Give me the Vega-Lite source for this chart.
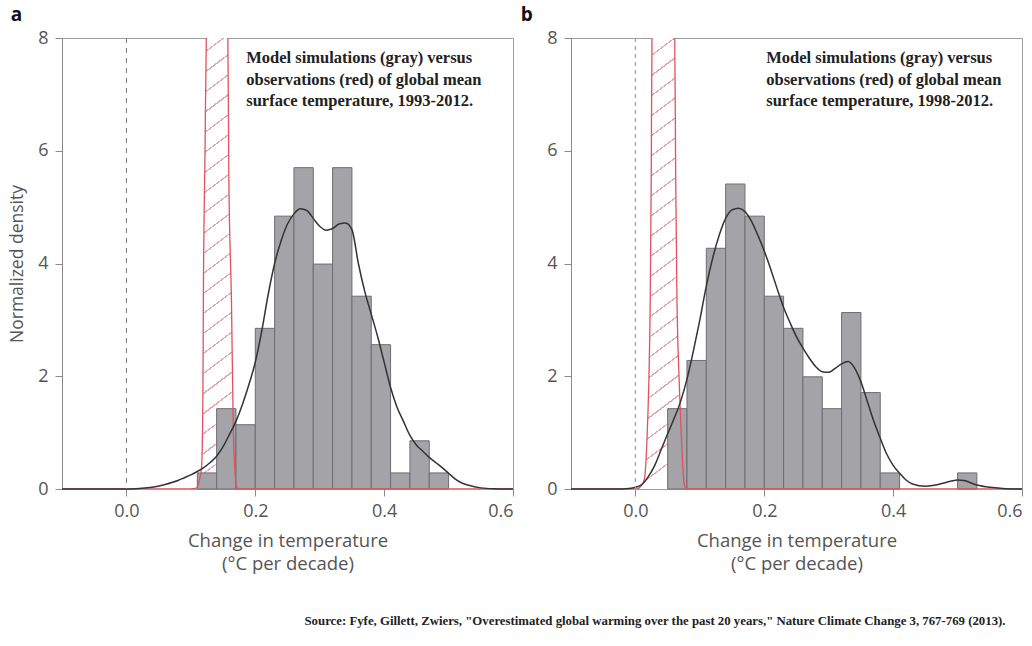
{
  "$schema": "https://vega.github.io/schema/vega-lite/v6.json",
  "background": "white",
  "padding": {"left": 8, "top": 5, "right": 0, "bottom": 5},
  "datasets": {
    "barsA": [
      {"bin_start": 0.11, "bin_end": 0.14, "density": 0.285},
      {"bin_start": 0.14, "bin_end": 0.17, "density": 1.425},
      {"bin_start": 0.17, "bin_end": 0.20, "density": 1.14},
      {"bin_start": 0.20, "bin_end": 0.23, "density": 2.85},
      {"bin_start": 0.23, "bin_end": 0.26, "density": 4.84},
      {"bin_start": 0.26, "bin_end": 0.29, "density": 5.70},
      {"bin_start": 0.29, "bin_end": 0.32, "density": 3.99},
      {"bin_start": 0.32, "bin_end": 0.35, "density": 5.70},
      {"bin_start": 0.35, "bin_end": 0.38, "density": 3.42},
      {"bin_start": 0.38, "bin_end": 0.41, "density": 2.56},
      {"bin_start": 0.41, "bin_end": 0.44, "density": 0.285},
      {"bin_start": 0.44, "bin_end": 0.47, "density": 0.855},
      {"bin_start": 0.47, "bin_end": 0.50, "density": 0.285}
    ],
    "barsB": [
      {"bin_start": 0.05, "bin_end": 0.08, "density": 1.425},
      {"bin_start": 0.08, "bin_end": 0.11, "density": 2.28},
      {"bin_start": 0.11, "bin_end": 0.14, "density": 4.27},
      {"bin_start": 0.14, "bin_end": 0.17, "density": 5.41},
      {"bin_start": 0.17, "bin_end": 0.20, "density": 4.84},
      {"bin_start": 0.20, "bin_end": 0.23, "density": 3.42},
      {"bin_start": 0.23, "bin_end": 0.26, "density": 2.85},
      {"bin_start": 0.26, "bin_end": 0.29, "density": 1.99},
      {"bin_start": 0.29, "bin_end": 0.32, "density": 1.425},
      {"bin_start": 0.32, "bin_end": 0.35, "density": 3.13},
      {"bin_start": 0.35, "bin_end": 0.38, "density": 1.71},
      {"bin_start": 0.38, "bin_end": 0.41, "density": 0.285},
      {"bin_start": 0.50, "bin_end": 0.53, "density": 0.285}
    ],
    "kdeA": [
      {"x": -0.1, "y": 0}, {"x": 0.0, "y": 0}, {"x": 0.02, "y": 0.01}, {"x": 0.04, "y": 0.03},
      {"x": 0.06, "y": 0.08}, {"x": 0.08, "y": 0.15}, {"x": 0.09, "y": 0.2}, {"x": 0.10, "y": 0.25},
      {"x": 0.11, "y": 0.31}, {"x": 0.12, "y": 0.38}, {"x": 0.13, "y": 0.47}, {"x": 0.14, "y": 0.58},
      {"x": 0.15, "y": 0.75}, {"x": 0.16, "y": 0.97}, {"x": 0.17, "y": 1.2}, {"x": 0.18, "y": 1.5},
      {"x": 0.19, "y": 1.85}, {"x": 0.20, "y": 2.25}, {"x": 0.21, "y": 2.8}, {"x": 0.22, "y": 3.45},
      {"x": 0.23, "y": 4.0}, {"x": 0.24, "y": 4.4}, {"x": 0.25, "y": 4.7}, {"x": 0.26, "y": 4.88},
      {"x": 0.27, "y": 4.97}, {"x": 0.28, "y": 4.94}, {"x": 0.29, "y": 4.8}, {"x": 0.30, "y": 4.66},
      {"x": 0.31, "y": 4.59}, {"x": 0.32, "y": 4.62}, {"x": 0.33, "y": 4.7}, {"x": 0.34, "y": 4.72},
      {"x": 0.35, "y": 4.6}, {"x": 0.36, "y": 4.0}, {"x": 0.37, "y": 3.5}, {"x": 0.38, "y": 3.1},
      {"x": 0.39, "y": 2.7}, {"x": 0.40, "y": 2.25}, {"x": 0.41, "y": 1.8}, {"x": 0.42, "y": 1.45},
      {"x": 0.43, "y": 1.2}, {"x": 0.44, "y": 0.95}, {"x": 0.45, "y": 0.78}, {"x": 0.46, "y": 0.67},
      {"x": 0.47, "y": 0.56}, {"x": 0.48, "y": 0.47}, {"x": 0.49, "y": 0.38}, {"x": 0.50, "y": 0.28},
      {"x": 0.51, "y": 0.18}, {"x": 0.52, "y": 0.11}, {"x": 0.53, "y": 0.07}, {"x": 0.55, "y": 0.02},
      {"x": 0.57, "y": 0.005}, {"x": 0.6, "y": 0}
    ],
    "kdeB": [
      {"x": -0.1, "y": 0}, {"x": -0.03, "y": 0}, {"x": -0.01, "y": 0.01}, {"x": 0.0, "y": 0.03},
      {"x": 0.01, "y": 0.08}, {"x": 0.02, "y": 0.22}, {"x": 0.03, "y": 0.42}, {"x": 0.04, "y": 0.7},
      {"x": 0.05, "y": 0.98}, {"x": 0.06, "y": 1.25}, {"x": 0.07, "y": 1.55}, {"x": 0.08, "y": 1.95},
      {"x": 0.09, "y": 2.45}, {"x": 0.10, "y": 3.0}, {"x": 0.11, "y": 3.6}, {"x": 0.12, "y": 4.1},
      {"x": 0.13, "y": 4.5}, {"x": 0.14, "y": 4.8}, {"x": 0.15, "y": 4.95}, {"x": 0.16, "y": 4.98},
      {"x": 0.17, "y": 4.92}, {"x": 0.18, "y": 4.75}, {"x": 0.19, "y": 4.5}, {"x": 0.20, "y": 4.22},
      {"x": 0.21, "y": 3.9}, {"x": 0.22, "y": 3.55}, {"x": 0.23, "y": 3.22}, {"x": 0.24, "y": 2.95},
      {"x": 0.25, "y": 2.7}, {"x": 0.26, "y": 2.5}, {"x": 0.27, "y": 2.32}, {"x": 0.28, "y": 2.17},
      {"x": 0.29, "y": 2.08}, {"x": 0.30, "y": 2.07}, {"x": 0.31, "y": 2.14}, {"x": 0.32, "y": 2.22},
      {"x": 0.33, "y": 2.26}, {"x": 0.34, "y": 2.15}, {"x": 0.35, "y": 1.9}, {"x": 0.36, "y": 1.55},
      {"x": 0.37, "y": 1.2}, {"x": 0.38, "y": 0.9}, {"x": 0.39, "y": 0.62}, {"x": 0.40, "y": 0.42},
      {"x": 0.41, "y": 0.28}, {"x": 0.42, "y": 0.16}, {"x": 0.43, "y": 0.09}, {"x": 0.45, "y": 0.05},
      {"x": 0.47, "y": 0.08}, {"x": 0.49, "y": 0.14}, {"x": 0.50, "y": 0.16}, {"x": 0.51, "y": 0.15},
      {"x": 0.53, "y": 0.07}, {"x": 0.55, "y": 0.03}, {"x": 0.57, "y": 0.01}, {"x": 0.6, "y": 0}
    ],
    "obsA": [
      {"x": -0.1, "y": 0}, {"x": 0.09, "y": 0}, {"x": 0.105, "y": 0.005}, {"x": 0.110, "y": 0.03},
      {"x": 0.113, "y": 0.15}, {"x": 0.1167, "y": 0.4}, {"x": 0.1186, "y": 1.5}, {"x": 0.1194, "y": 3.35},
      {"x": 0.122, "y": 6}, {"x": 0.124, "y": 8}, {"x": 0.13, "y": 8.8},
      {"x": 0.1405, "y": 9}, {"x": 0.151, "y": 8.8}, {"x": 0.1574, "y": 8},
      {"x": 0.159, "y": 5.5}, {"x": 0.163, "y": 3.35}, {"x": 0.166, "y": 1.0}, {"x": 0.168, "y": 0.4},
      {"x": 0.1705, "y": 0.05}, {"x": 0.173, "y": 0.005}, {"x": 0.18, "y": 0}, {"x": 0.6, "y": 0}
    ],
    "obsB": [
      {"x": -0.1, "y": 0}, {"x": 0.0, "y": 0}, {"x": 0.004, "y": 0.005}, {"x": 0.007, "y": 0.03},
      {"x": 0.0137, "y": 0.16}, {"x": 0.0179, "y": 0.87}, {"x": 0.021, "y": 2.0}, {"x": 0.023, "y": 3.35},
      {"x": 0.0245, "y": 5.5}, {"x": 0.0257, "y": 8}, {"x": 0.032, "y": 8.8},
      {"x": 0.043, "y": 9}, {"x": 0.055, "y": 8.8}, {"x": 0.061, "y": 8},
      {"x": 0.0625, "y": 5.5}, {"x": 0.0645, "y": 3.35}, {"x": 0.067, "y": 2.2}, {"x": 0.0696, "y": 1.4},
      {"x": 0.075, "y": 0.16}, {"x": 0.0774, "y": 0.02}, {"x": 0.08, "y": 0.005}, {"x": 0.09, "y": 0}, {"x": 0.6, "y": 0}
    ],
    "noteA": [{"label": ["Model simulations (gray) versus", "observations (red) of global mean", "surface temperature, 1993-2012."]}],
    "noteB": [{"label": ["Model simulations (gray) versus", "observations (red) of global mean", "surface temperature, 1998-2012."]}]
  },
  "title": {
    "text": "Source: Fyfe, Gillett, Zwiers, \"Overestimated global warming over the past 20 years,\" Nature Climate Change 3, 767-769 (2013).",
    "orient": "bottom",
    "anchor": "end",
    "font": "Liberation Serif",
    "fontSize": 12.8,
    "fontWeight": "bold",
    "color": "#222",
    "offset": 42,
    "dx": -20
  },
  "spacing": 3,
  "hconcat": [
    {
      "width": 451,
      "height": 451,
      "title": {"text": "a", "anchor": "start", "frame": "bounds", "fontSize": 19, "fontWeight": "bold", "font": "Open Sans", "color": "#111", "offset": 4, "dx": 2},
      "layer": [
        {
          "data": {"name": "obsA"},
          "transform": [{"filter": "datum.x >= 0.09 && datum.x <= 0.18"}],
          "mark": {"type": "area", "clip": true, "interpolate": "monotone",
            "fill": {
              "gradient": "linear", "x1": 0, "y1": 0, "x2": 0.0858, "y2": 1,
              "stops": [
                {"offset": 0, "color": "#ffffff"},
                {"offset": 0.0100, "color": "#ffffff"}, {"offset": 0.0100, "color": "#e2a3aa"}, {"offset": 0.0130, "color": "#e2a3aa"}, {"offset": 0.0130, "color": "#ffffff"},
                {"offset": 0.0492, "color": "#ffffff"}, {"offset": 0.0492, "color": "#e2a3aa"}, {"offset": 0.0522, "color": "#e2a3aa"}, {"offset": 0.0522, "color": "#ffffff"},
                {"offset": 0.0883, "color": "#ffffff"}, {"offset": 0.0883, "color": "#e2a3aa"}, {"offset": 0.0913, "color": "#e2a3aa"}, {"offset": 0.0913, "color": "#ffffff"},
                {"offset": 0.1275, "color": "#ffffff"}, {"offset": 0.1275, "color": "#e2a3aa"}, {"offset": 0.1305, "color": "#e2a3aa"}, {"offset": 0.1305, "color": "#ffffff"},
                {"offset": 0.1666, "color": "#ffffff"}, {"offset": 0.1666, "color": "#e2a3aa"}, {"offset": 0.1696, "color": "#e2a3aa"}, {"offset": 0.1696, "color": "#ffffff"},
                {"offset": 0.2058, "color": "#ffffff"}, {"offset": 0.2058, "color": "#e2a3aa"}, {"offset": 0.2088, "color": "#e2a3aa"}, {"offset": 0.2088, "color": "#ffffff"},
                {"offset": 0.2450, "color": "#ffffff"}, {"offset": 0.2450, "color": "#e2a3aa"}, {"offset": 0.2480, "color": "#e2a3aa"}, {"offset": 0.2480, "color": "#ffffff"},
                {"offset": 0.2841, "color": "#ffffff"}, {"offset": 0.2841, "color": "#e2a3aa"}, {"offset": 0.2871, "color": "#e2a3aa"}, {"offset": 0.2871, "color": "#ffffff"},
                {"offset": 0.3233, "color": "#ffffff"}, {"offset": 0.3233, "color": "#e2a3aa"}, {"offset": 0.3263, "color": "#e2a3aa"}, {"offset": 0.3263, "color": "#ffffff"},
                {"offset": 0.3624, "color": "#ffffff"}, {"offset": 0.3624, "color": "#e2a3aa"}, {"offset": 0.3654, "color": "#e2a3aa"}, {"offset": 0.3654, "color": "#ffffff"},
                {"offset": 0.4016, "color": "#ffffff"}, {"offset": 0.4016, "color": "#e2a3aa"}, {"offset": 0.4046, "color": "#e2a3aa"}, {"offset": 0.4046, "color": "#ffffff"},
                {"offset": 0.4408, "color": "#ffffff"}, {"offset": 0.4408, "color": "#e2a3aa"}, {"offset": 0.4438, "color": "#e2a3aa"}, {"offset": 0.4438, "color": "#ffffff"},
                {"offset": 0.4799, "color": "#ffffff"}, {"offset": 0.4799, "color": "#e2a3aa"}, {"offset": 0.4829, "color": "#e2a3aa"}, {"offset": 0.4829, "color": "#ffffff"},
                {"offset": 0.5191, "color": "#ffffff"}, {"offset": 0.5191, "color": "#e2a3aa"}, {"offset": 0.5221, "color": "#e2a3aa"}, {"offset": 0.5221, "color": "#ffffff"},
                {"offset": 0.5582, "color": "#ffffff"}, {"offset": 0.5582, "color": "#e2a3aa"}, {"offset": 0.5612, "color": "#e2a3aa"}, {"offset": 0.5612, "color": "#ffffff"},
                {"offset": 0.5974, "color": "#ffffff"}, {"offset": 0.5974, "color": "#e2a3aa"}, {"offset": 0.6004, "color": "#e2a3aa"}, {"offset": 0.6004, "color": "#ffffff"},
                {"offset": 0.6366, "color": "#ffffff"}, {"offset": 0.6366, "color": "#e2a3aa"}, {"offset": 0.6396, "color": "#e2a3aa"}, {"offset": 0.6396, "color": "#ffffff"},
                {"offset": 0.6757, "color": "#ffffff"}, {"offset": 0.6757, "color": "#e2a3aa"}, {"offset": 0.6787, "color": "#e2a3aa"}, {"offset": 0.6787, "color": "#ffffff"},
                {"offset": 0.7149, "color": "#ffffff"}, {"offset": 0.7149, "color": "#e2a3aa"}, {"offset": 0.7179, "color": "#e2a3aa"}, {"offset": 0.7179, "color": "#ffffff"},
                {"offset": 0.7540, "color": "#ffffff"}, {"offset": 0.7540, "color": "#e2a3aa"}, {"offset": 0.7570, "color": "#e2a3aa"}, {"offset": 0.7570, "color": "#ffffff"},
                {"offset": 0.7932, "color": "#ffffff"}, {"offset": 0.7932, "color": "#e2a3aa"}, {"offset": 0.7962, "color": "#e2a3aa"}, {"offset": 0.7962, "color": "#ffffff"},
                {"offset": 0.8324, "color": "#ffffff"}, {"offset": 0.8324, "color": "#e2a3aa"}, {"offset": 0.8354, "color": "#e2a3aa"}, {"offset": 0.8354, "color": "#ffffff"},
                {"offset": 0.8715, "color": "#ffffff"}, {"offset": 0.8715, "color": "#e2a3aa"}, {"offset": 0.8745, "color": "#e2a3aa"}, {"offset": 0.8745, "color": "#ffffff"},
                {"offset": 0.9107, "color": "#ffffff"}, {"offset": 0.9107, "color": "#e2a3aa"}, {"offset": 0.9137, "color": "#e2a3aa"}, {"offset": 0.9137, "color": "#ffffff"},
                {"offset": 0.9498, "color": "#ffffff"}, {"offset": 0.9498, "color": "#e2a3aa"}, {"offset": 0.9528, "color": "#e2a3aa"}, {"offset": 0.9528, "color": "#ffffff"},
                {"offset": 0.9890, "color": "#ffffff"}, {"offset": 0.9890, "color": "#e2a3aa"}, {"offset": 0.9920, "color": "#e2a3aa"}, {"offset": 0.9920, "color": "#ffffff"},
                {"offset": 1, "color": "#ffffff"}
              ]
            }
          },
          "encoding": {
            "x": {"field": "x", "type": "quantitative", "scale": {"domain": [-0.1, 0.6], "nice": false, "zero": false},
              "axis": {"values": [0, 0.2, 0.4, 0.6], "format": ".1f", "title": ["Change in temperature", "(°C per decade)"]}},
            "y": {"field": "y", "type": "quantitative", "scale": {"domain": [0, 8], "nice": false},
              "axis": {"values": [0, 2, 4, 6, 8], "format": "d", "title": "Normalized density"}}
          }
        },
        {
          "data": {"name": "barsA"},
          "mark": {"type": "rect", "fill": "#a3a3a8", "stroke": "#6e6e72", "strokeWidth": 1},
          "encoding": {
            "x": {"field": "bin_start", "type": "quantitative"},
            "x2": {"field": "bin_end"},
            "y": {"field": "density", "type": "quantitative"},
            "y2": {"datum": 0}
          }
        },
        {
          "data": {"name": "obsA"},
          "mark": {"type": "line", "clip": true, "color": "#e0525f", "strokeWidth": 1.3, "interpolate": "monotone"},
          "encoding": {
            "x": {"field": "x", "type": "quantitative"},
            "y": {"field": "y", "type": "quantitative"}
          }
        },
        {
          "data": {"name": "kdeA"},
          "mark": {"type": "line", "color": "#333333", "strokeWidth": 1.5, "interpolate": "monotone"},
          "encoding": {
            "x": {"field": "x", "type": "quantitative"},
            "y": {"field": "y", "type": "quantitative"}
          }
        },
        {
          "data": {"values": [{}]},
          "mark": {"type": "rule", "color": "#777777", "strokeDash": [5, 5], "strokeWidth": 1},
          "encoding": {"x": {"datum": 0}}
        },
        {
          "data": {"name": "noteA"},
          "mark": {"type": "text", "align": "left", "baseline": "middle", "font": "Liberation Serif", "fontWeight": "bold", "fontSize": 16.5, "color": "#222", "lineHeight": 21.5},
          "encoding": {
            "x": {"datum": 0.186},
            "y": {"datum": 7.64},
            "text": {"field": "label"}
          }
        }
      ]
    },
    {
      "width": 451,
      "height": 451,
      "title": {"text": "b", "anchor": "start", "frame": "bounds", "fontSize": 19, "fontWeight": "bold", "font": "Open Sans", "color": "#111", "offset": 4, "dx": -26},
      "layer": [
        {
          "data": {"name": "obsB"},
          "transform": [{"filter": "datum.x >= 0 && datum.x <= 0.09"}],
          "mark": {"type": "area", "clip": true, "interpolate": "monotone",
            "fill": {
              "gradient": "linear", "x1": 0, "y1": 0, "x2": 0.0858, "y2": 1,
              "stops": [
                {"offset": 0, "color": "#ffffff"},
                {"offset": 0.0100, "color": "#ffffff"}, {"offset": 0.0100, "color": "#e2a3aa"}, {"offset": 0.0130, "color": "#e2a3aa"}, {"offset": 0.0130, "color": "#ffffff"},
                {"offset": 0.0492, "color": "#ffffff"}, {"offset": 0.0492, "color": "#e2a3aa"}, {"offset": 0.0522, "color": "#e2a3aa"}, {"offset": 0.0522, "color": "#ffffff"},
                {"offset": 0.0883, "color": "#ffffff"}, {"offset": 0.0883, "color": "#e2a3aa"}, {"offset": 0.0913, "color": "#e2a3aa"}, {"offset": 0.0913, "color": "#ffffff"},
                {"offset": 0.1275, "color": "#ffffff"}, {"offset": 0.1275, "color": "#e2a3aa"}, {"offset": 0.1305, "color": "#e2a3aa"}, {"offset": 0.1305, "color": "#ffffff"},
                {"offset": 0.1666, "color": "#ffffff"}, {"offset": 0.1666, "color": "#e2a3aa"}, {"offset": 0.1696, "color": "#e2a3aa"}, {"offset": 0.1696, "color": "#ffffff"},
                {"offset": 0.2058, "color": "#ffffff"}, {"offset": 0.2058, "color": "#e2a3aa"}, {"offset": 0.2088, "color": "#e2a3aa"}, {"offset": 0.2088, "color": "#ffffff"},
                {"offset": 0.2450, "color": "#ffffff"}, {"offset": 0.2450, "color": "#e2a3aa"}, {"offset": 0.2480, "color": "#e2a3aa"}, {"offset": 0.2480, "color": "#ffffff"},
                {"offset": 0.2841, "color": "#ffffff"}, {"offset": 0.2841, "color": "#e2a3aa"}, {"offset": 0.2871, "color": "#e2a3aa"}, {"offset": 0.2871, "color": "#ffffff"},
                {"offset": 0.3233, "color": "#ffffff"}, {"offset": 0.3233, "color": "#e2a3aa"}, {"offset": 0.3263, "color": "#e2a3aa"}, {"offset": 0.3263, "color": "#ffffff"},
                {"offset": 0.3624, "color": "#ffffff"}, {"offset": 0.3624, "color": "#e2a3aa"}, {"offset": 0.3654, "color": "#e2a3aa"}, {"offset": 0.3654, "color": "#ffffff"},
                {"offset": 0.4016, "color": "#ffffff"}, {"offset": 0.4016, "color": "#e2a3aa"}, {"offset": 0.4046, "color": "#e2a3aa"}, {"offset": 0.4046, "color": "#ffffff"},
                {"offset": 0.4408, "color": "#ffffff"}, {"offset": 0.4408, "color": "#e2a3aa"}, {"offset": 0.4438, "color": "#e2a3aa"}, {"offset": 0.4438, "color": "#ffffff"},
                {"offset": 0.4799, "color": "#ffffff"}, {"offset": 0.4799, "color": "#e2a3aa"}, {"offset": 0.4829, "color": "#e2a3aa"}, {"offset": 0.4829, "color": "#ffffff"},
                {"offset": 0.5191, "color": "#ffffff"}, {"offset": 0.5191, "color": "#e2a3aa"}, {"offset": 0.5221, "color": "#e2a3aa"}, {"offset": 0.5221, "color": "#ffffff"},
                {"offset": 0.5582, "color": "#ffffff"}, {"offset": 0.5582, "color": "#e2a3aa"}, {"offset": 0.5612, "color": "#e2a3aa"}, {"offset": 0.5612, "color": "#ffffff"},
                {"offset": 0.5974, "color": "#ffffff"}, {"offset": 0.5974, "color": "#e2a3aa"}, {"offset": 0.6004, "color": "#e2a3aa"}, {"offset": 0.6004, "color": "#ffffff"},
                {"offset": 0.6366, "color": "#ffffff"}, {"offset": 0.6366, "color": "#e2a3aa"}, {"offset": 0.6396, "color": "#e2a3aa"}, {"offset": 0.6396, "color": "#ffffff"},
                {"offset": 0.6757, "color": "#ffffff"}, {"offset": 0.6757, "color": "#e2a3aa"}, {"offset": 0.6787, "color": "#e2a3aa"}, {"offset": 0.6787, "color": "#ffffff"},
                {"offset": 0.7149, "color": "#ffffff"}, {"offset": 0.7149, "color": "#e2a3aa"}, {"offset": 0.7179, "color": "#e2a3aa"}, {"offset": 0.7179, "color": "#ffffff"},
                {"offset": 0.7540, "color": "#ffffff"}, {"offset": 0.7540, "color": "#e2a3aa"}, {"offset": 0.7570, "color": "#e2a3aa"}, {"offset": 0.7570, "color": "#ffffff"},
                {"offset": 0.7932, "color": "#ffffff"}, {"offset": 0.7932, "color": "#e2a3aa"}, {"offset": 0.7962, "color": "#e2a3aa"}, {"offset": 0.7962, "color": "#ffffff"},
                {"offset": 0.8324, "color": "#ffffff"}, {"offset": 0.8324, "color": "#e2a3aa"}, {"offset": 0.8354, "color": "#e2a3aa"}, {"offset": 0.8354, "color": "#ffffff"},
                {"offset": 0.8715, "color": "#ffffff"}, {"offset": 0.8715, "color": "#e2a3aa"}, {"offset": 0.8745, "color": "#e2a3aa"}, {"offset": 0.8745, "color": "#ffffff"},
                {"offset": 0.9107, "color": "#ffffff"}, {"offset": 0.9107, "color": "#e2a3aa"}, {"offset": 0.9137, "color": "#e2a3aa"}, {"offset": 0.9137, "color": "#ffffff"},
                {"offset": 0.9498, "color": "#ffffff"}, {"offset": 0.9498, "color": "#e2a3aa"}, {"offset": 0.9528, "color": "#e2a3aa"}, {"offset": 0.9528, "color": "#ffffff"},
                {"offset": 0.9890, "color": "#ffffff"}, {"offset": 0.9890, "color": "#e2a3aa"}, {"offset": 0.9920, "color": "#e2a3aa"}, {"offset": 0.9920, "color": "#ffffff"},
                {"offset": 1, "color": "#ffffff"}
              ]
            }
          },
          "encoding": {
            "x": {"field": "x", "type": "quantitative", "scale": {"domain": [-0.1, 0.6], "nice": false, "zero": false},
              "axis": {"values": [0, 0.2, 0.4, 0.6], "format": ".1f", "title": ["Change in temperature", "(°C per decade)"]}},
            "y": {"field": "y", "type": "quantitative", "scale": {"domain": [0, 8], "nice": false},
              "axis": {"values": [0, 2, 4, 6, 8], "format": "d", "title": null}}
          }
        },
        {
          "data": {"name": "barsB"},
          "mark": {"type": "rect", "fill": "#a3a3a8", "stroke": "#6e6e72", "strokeWidth": 1},
          "encoding": {
            "x": {"field": "bin_start", "type": "quantitative"},
            "x2": {"field": "bin_end"},
            "y": {"field": "density", "type": "quantitative"},
            "y2": {"datum": 0}
          }
        },
        {
          "data": {"name": "obsB"},
          "mark": {"type": "line", "clip": true, "color": "#e0525f", "strokeWidth": 1.3, "interpolate": "monotone"},
          "encoding": {
            "x": {"field": "x", "type": "quantitative"},
            "y": {"field": "y", "type": "quantitative"}
          }
        },
        {
          "data": {"name": "kdeB"},
          "mark": {"type": "line", "color": "#333333", "strokeWidth": 1.5, "interpolate": "monotone"},
          "encoding": {
            "x": {"field": "x", "type": "quantitative"},
            "y": {"field": "y", "type": "quantitative"}
          }
        },
        {
          "data": {"values": [{}]},
          "mark": {"type": "rule", "color": "#8fa3ad", "strokeDash": [4, 4], "strokeWidth": 1.3},
          "encoding": {"x": {"datum": 0}}
        },
        {
          "data": {"name": "noteB"},
          "mark": {"type": "text", "align": "left", "baseline": "middle", "font": "Liberation Serif", "fontWeight": "bold", "fontSize": 16.5, "color": "#222", "lineHeight": 21.5},
          "encoding": {
            "x": {"datum": 0.203},
            "y": {"datum": 7.64},
            "text": {"field": "label"}
          }
        }
      ]
    }
  ],
  "config": {
    "view": {"stroke": "#a0a0a0", "strokeWidth": 1},
    "axis": {
      "grid": false,
      "domainColor": "#8a8a8a",
      "tickColor": "#8a8a8a",
      "tickSize": 7,
      "labelFont": "Open Sans",
      "labelFontSize": 18,
      "labelColor": "#555555",
      "titleFont": "Open Sans",
      "titleFontSize": 18.5,
      "titleFontWeight": "normal",
      "titleColor": "#555555"
    },
    "axisX": {"labelPadding": 6, "titlePadding": 11, "titleLineHeight": 23, "domainColor": "#d9848d"},
    "axisY": {"labelPadding": 7, "titlePadding": 11, "titleFontSize": 17.5}
  }
}
